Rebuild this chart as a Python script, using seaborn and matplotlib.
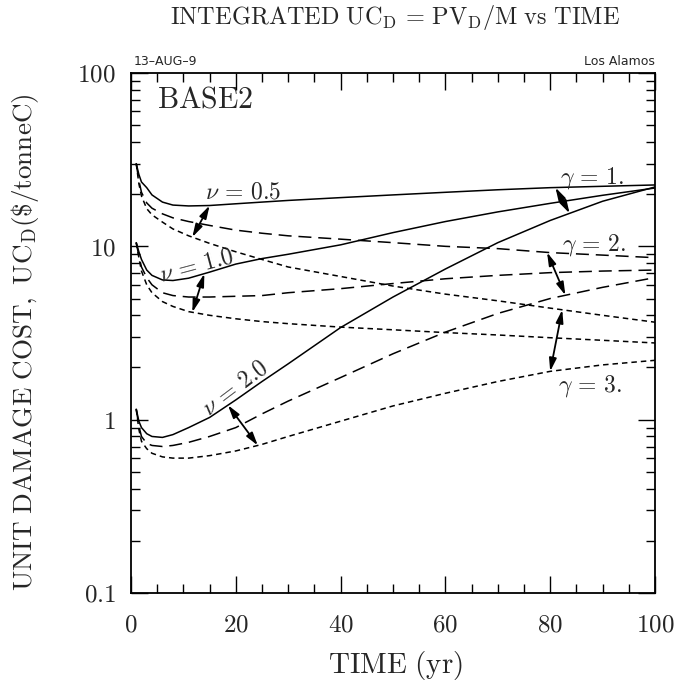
import numpy as np
import pandas as pd
import matplotlib
matplotlib.use("Agg")
import matplotlib.pyplot as plt
import seaborn as sns

# ---------------- data ----------------
TIME = [1, 1.5, 2, 3, 4, 6, 8, 11, 15, 20, 25, 30, 40, 50, 60, 70, 80, 90, 100]

UC_nu05_g1 = [30, 26, 23.5, 21.8, 19.8, 18.0, 17.3, 17.1, 17.2, 17.6, 18.0, 18.4, 19.1, 19.8, 20.5, 21.2, 21.8, 22.2, 22.6]
UC_nu05_g2 = [30, 24, 20.5, 17.8, 16.6, 15.4, 14.6, 13.9, 13.2, 12.4, 11.9, 11.5, 11.0, 10.5, 10.0, 9.7, 9.2, 8.9, 8.6]
UC_nu05_g3 = [30, 23, 19.5, 16.5, 15.2, 13.8, 12.6, 11.5, 10.4, 9.3, 8.4, 7.6, 6.7, 5.9, 5.3, 4.85, 4.4, 4.0, 3.65]

UC_nu10_g1 = [10.5, 9.3, 8.4, 7.3, 6.8, 6.4, 6.35, 6.55, 7.1, 7.9, 8.5, 9.0, 10.2, 12.0, 13.9, 15.8, 17.7, 19.7, 21.7]
UC_nu10_g2 = [10.5, 8.8, 7.6, 6.6, 6.0, 5.4, 5.2, 5.1, 5.1, 5.15, 5.2, 5.4, 5.7, 6.1, 6.5, 6.8, 7.05, 7.2, 7.3]
UC_nu10_g3 = [10.5, 8.6, 7.2, 6.0, 5.4, 4.8, 4.5, 4.2, 4.0, 3.82, 3.68, 3.58, 3.42, 3.3, 3.18, 3.08, 2.97, 2.87, 2.77]

UC_nu20_g1 = [1.15, 0.98, 0.9, 0.83, 0.8, 0.79, 0.82, 0.9, 1.03, 1.3, 1.66, 2.1, 3.4, 5.1, 7.4, 10.5, 14.1, 18.2, 22.0]
UC_nu20_g2 = [1.15, 0.92, 0.8, 0.73, 0.71, 0.70, 0.71, 0.74, 0.8, 0.9, 1.08, 1.28, 1.75, 2.4, 3.2, 4.1, 5.0, 5.8, 6.6]
UC_nu20_g3 = [1.15, 0.88, 0.75, 0.68, 0.64, 0.61, 0.6, 0.6, 0.62, 0.66, 0.72, 0.8, 0.98, 1.2, 1.42, 1.66, 1.9, 2.07, 2.2]

NU_VALUES = ["0.5", "1.0", "2.0"]
GAMMA_VALUES = [1, 2, 3]
SERIES = {
    ("0.5", 1): UC_nu05_g1, ("0.5", 2): UC_nu05_g2, ("0.5", 3): UC_nu05_g3,
    ("1.0", 1): UC_nu10_g1, ("1.0", 2): UC_nu10_g2, ("1.0", 3): UC_nu10_g3,
    ("2.0", 1): UC_nu20_g1, ("2.0", 2): UC_nu20_g2, ("2.0", 3): UC_nu20_g3,
}

X_TICKS = [0, 20, 40, 60, 80, 100]
Y_TICKS = [0.1, 1, 10, 100]
Y_TICK_LABELS = ["0.1", "1", "10", "100"]

# curve labels: (text, x, y, rotation)
NU_LABELS = [(r"$\nu\,=\,0.5$", 21.4, 20.6, 0),
             (r"$\nu\,=\,1.0$", 12.6, 7.8, 15),
             (r"$\nu\,=\,2.0$", 19.8, 1.52, 37)]
GAMMA_LABELS = [(r"$\gamma\,=\,1.$", 88.0, 24.8),
                (r"$\gamma\,=\,2.$", 88.4, 10.2),
                (r"$\gamma\,=\,3.$", 87.6, 1.56)]
# arrows: (nu_from, gamma_from, x_from, nu_to, gamma_to, x_to)
ARROWS = [("0.5", 1, 15.0, "0.5", 3, 11.7),
          ("1.0", 1, 14.0, "1.0", 3, 11.7),
          ("2.0", 1, 18.5, "2.0", 3, 24.2),
          ("0.5", 1, 81.0, "2.0", 1, 83.7),
          ("0.5", 2, 79.4, "2.0", 2, 82.9),
          ("0.5", 3, 82.3, "2.0", 3, 80.0)]

rows = []
for (nu, g), vals in SERIES.items():
    for t, v in zip(TIME, vals):
        rows.append({"TIME": t, "UC": v, "nu": nu, "gamma": g})
df = pd.DataFrame(rows)

# ---------------- style ----------------
sns.set_style("ticks")
plt.rcParams["mathtext.fontset"] = "cm"
plt.rcParams["font.family"] = ["DejaVu Serif"]

fig = plt.figure(figsize=(6.78, 6.85), dpi=100)
ax = fig.add_axes([131 / 678, 92 / 685, 524 / 678, 520 / 685])

sns.lineplot(data=df, x="TIME", y="UC", units="nu", style="gamma",
             dashes={1: "", 2: (8.5, 4.5), 3: (3.6, 2.6)},
             color="black", lw=1.1, estimator=None, legend=False,
             sort=False, ax=ax)

ax.set_yscale("log")
ax.set_xlim(0, 100)
ax.set_ylim(0.1, 100)

ax.set_xticks(X_TICKS, labels=[f"${v}$" for v in X_TICKS])
ax.set_xticks(np.arange(0, 101, 5), minor=True)
ax.set_yticks(Y_TICKS, labels=[f"${v}$" for v in Y_TICK_LABELS])
minors = [m * 10.0 ** e for e in (-1, 0, 1) for m in range(2, 10)]
ax.set_yticks(minors, minor=True)
ax.set_yticklabels([], minor=True)

ax.tick_params(which="both", direction="in", top=True, right=True,
               color="black", width=1.0)
ax.tick_params(which="major", length=12)
ax.tick_params(which="minor", length=6.5)
ax.tick_params(axis="x", which="major", labelsize=18, pad=15)
ax.tick_params(axis="y", which="major", labelsize=18, pad=11)
for sp in ax.spines.values():
    sp.set_linewidth(1.3)
    sp.set_color("black")
ax.set_xlabel("")
ax.set_ylabel("")

# labels on curves
for txt, x, y, rot in NU_LABELS:
    ax.text(x, y, txt, fontsize=17, rotation=rot, rotation_mode="anchor",
            ha="center", va="center")
for txt, x, y in GAMMA_LABELS:
    ax.text(x, y, txt, fontsize=17, ha="center", va="center")


def curve_value(nu, g, x):
    vals = np.log10(SERIES[(nu, g)])
    return 10 ** np.interp(x, TIME, vals)


for nu1, g1, x1, nu2, g2, x2 in ARROWS:
    ax.annotate("", xy=(x2, curve_value(nu2, g2, x2)),
                xytext=(x1, curve_value(nu1, g1, x1)),
                arrowprops=dict(arrowstyle="<|-|>,head_length=0.7,head_width=0.2",
                                color="black", lw=1.3, mutation_scale=11,
                                shrinkA=0, shrinkB=0))

ax.text(0.05, 0.975, r"$\mathrm{BASE2}$", transform=ax.transAxes,
        fontsize=21.5, ha="left", va="top")

# small header texts
ax.text(0.005, 1.01, "13\u2013AUG\u20139", transform=ax.transAxes,
        fontsize=9, family="DejaVu Sans", ha="left", va="bottom")
ax.text(1.0, 1.01, "Los Alamos", transform=ax.transAxes,
        fontsize=9, family="DejaVu Sans", ha="right", va="bottom")

fig.text(395 / 678, 1 - 18 / 685,
         r"$\mathrm{INTEGRATED\ UC_D\,=\,PV_D/M\ vs\ TIME}$",
         fontsize=17.5, ha="center", va="center")
fig.text(396 / 678, 1 - 665 / 685, r"$\mathrm{TIME\ (yr)}$",
         fontsize=21, ha="center", va="center")
fig.text(25 / 678, 1 - 342 / 685,
         r"$\mathrm{UNIT\ DAMAGE\ COST,\ UC_D(\$/tonneC)}$",
         fontsize=19.5, rotation=90, ha="center", va="center")

fig.savefig("out.png", dpi=100)
